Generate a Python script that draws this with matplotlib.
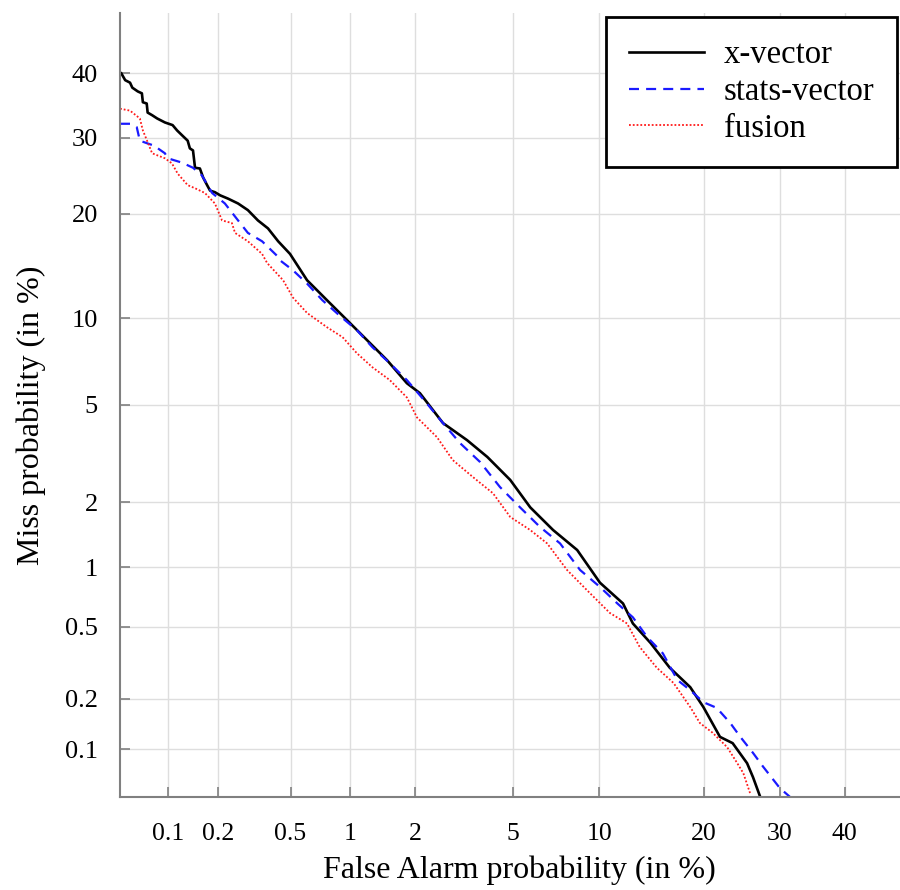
import numpy as np
import matplotlib
matplotlib.use("Agg")
import matplotlib.pyplot as plt
from statistics import NormalDist

# ---------------- data (percent) ----------------
xvec_fa = [0.051, 0.054, 0.058, 0.060, 0.065, 0.069, 0.070, 0.074, 0.075, 0.080, 0.086, 0.096,
           0.107, 0.114, 0.122, 0.132, 0.136, 0.142, 0.146, 0.156, 0.163, 0.172, 0.179, 0.191,
           0.205, 0.227, 0.259, 0.294, 0.334, 0.379, 0.43, 0.497, 0.61, 0.77, 0.97, 1.21, 1.50,
           1.84, 2.10, 2.64, 3.32, 4.00, 4.90, 5.81, 7.01, 8.47, 10.05, 11.86, 12.7, 14.3, 16.2,
           18.4, 19.9, 21.9, 23.5, 25.4, 26.2, 27.2]
xvec_miss = [40.0, 38.9, 38.5, 37.7, 37.1, 36.8, 35.4, 35.2, 33.8, 33.4, 32.9, 32.3,
             31.9, 31.1, 30.4, 29.6, 28.5, 28.2, 25.8, 25.7, 24.5, 23.5, 22.8, 22.6,
             22.2, 21.8, 21.2, 20.4, 19.2, 18.3, 16.9, 15.6, 13.1, 11.4, 9.85, 8.47, 7.24,
             6.01, 5.53, 4.26, 3.65, 3.12, 2.50, 1.90, 1.50, 1.21, 0.84, 0.66, 0.52, 0.41, 0.30,
             0.233, 0.179, 0.119, 0.109, 0.082, 0.067, 0.050]

stats_fa = [0.050, 0.058, 0.064, 0.067, 0.075, 0.082, 0.096, 0.100, 0.122, 0.142, 0.160, 0.184,
            0.218, 0.259, 0.294, 0.352, 0.43, 0.44, 0.516, 0.61, 0.73, 0.89, 1.08, 1.28, 1.54,
            1.84, 2.25, 2.64, 3.11, 3.75, 4.48, 5.33, 6.30, 7.41, 8.66, 10.05, 11.4, 12.7, 14.0,
            15.5, 17.0, 18.4, 19.9, 21.5, 23.2, 24.5, 26.2, 27.6, 30.0, 31.5]
stats_miss = [32.1, 32.1, 31.6, 29.6, 29.2, 28.9, 27.8, 27.1, 26.5, 25.8, 24.8, 22.5,
              21.2, 19.2, 17.8, 16.9, 15.3, 14.96, 14.0, 12.8, 11.4, 10.2, 9.15, 8.03, 7.08,
              6.17, 5.07, 4.26, 3.55, 2.97, 2.33, 1.90, 1.55, 1.30, 0.97, 0.80, 0.66, 0.56, 0.44,
              0.36, 0.256, 0.224, 0.191, 0.177, 0.144, 0.119, 0.095, 0.078, 0.057, 0.050]

fusion_fa = [0.050, 0.058, 0.067, 0.070, 0.075, 0.080, 0.096, 0.106, 0.115, 0.132, 0.146, 0.167,
             0.191, 0.210, 0.239, 0.249, 0.294, 0.352, 0.375, 0.457, 0.516, 0.61, 0.77, 0.92,
             1.08, 1.28, 1.54, 1.84, 2.04, 2.49, 2.90, 3.51, 4.21, 4.90, 5.81, 6.68, 7.83, 9.13,
             10.8, 12.2, 13.3, 14.9, 16.6, 18.4, 19.5, 21.0, 22.8, 24.1, 24.9, 25.8]
fusion_miss = [34.4, 34.1, 32.9, 31.1, 29.4, 27.8, 27.1, 26.4, 25.0, 23.5, 23.1, 22.5,
               21.2, 19.2, 18.9, 17.8, 16.9, 15.6, 14.7, 13.1, 11.6, 10.4, 9.36, 8.68,
               7.66, 6.85, 6.17, 5.33, 4.48, 3.75, 3.03, 2.57, 2.19, 1.72, 1.50, 1.30, 0.97, 0.77,
               0.59, 0.52, 0.39, 0.30, 0.246, 0.179, 0.144, 0.126, 0.103, 0.082, 0.071, 0.053]

series_names = ["x-vector", "stats-vector", "fusion"]
tick_values = [0.1, 0.2, 0.5, 1, 2, 5, 10, 20, 30, 40]
tick_labels = ["0.1", "0.2", "0.5", "1", "2", "5", "10", "20", "30", "40"]
axis_min, axis_max = 0.05, 50

# ---------------- probit scale ----------------
_nd = NormalDist()
_ppf = np.vectorize(_nd.inv_cdf, otypes=[float])
_cdf = np.vectorize(_nd.cdf, otypes=[float])


def fwd(p):
    p = np.clip(np.asarray(p, dtype=float) / 100.0, 1e-9, 1 - 1e-9)
    return _ppf(p)


def inv(z):
    return _cdf(np.asarray(z, dtype=float)) * 100.0


fig = plt.figure(figsize=(9, 8.9), dpi=100)
ax = fig.add_axes([120 / 900, 93 / 890, 785 / 900, 784 / 890])
ax.set_xscale("function", functions=(fwd, inv))
ax.set_yscale("function", functions=(fwd, inv))

ax.plot(xvec_fa, xvec_miss, color="black", lw=1.9, label=series_names[0])
ax.plot(stats_fa, stats_miss, color="#1a1aff", lw=1.6, linestyle=(0, (4.5, 3.2)),
        label=series_names[1])
ax.plot(fusion_fa, fusion_miss, color="#ff1a1a", lw=1.3, linestyle=(0, (1, 1.1)),
        label=series_names[2])

ax.set_xlim(axis_min, axis_max)
ax.set_ylim(axis_min, axis_max)
ax.set_xticks(tick_values)
ax.set_xticklabels(tick_labels, fontfamily="Liberation Serif", fontsize=18.5)
ax.set_yticks(tick_values)
ax.set_yticklabels(tick_labels, fontfamily="Liberation Serif", fontsize=19)
ax.minorticks_off()
ax.tick_params(axis="x", direction="in", length=7, color="#808080", width=1.2, pad=19)
ax.tick_params(axis="y", direction="in", length=7, color="#808080", width=1.2, pad=16)
ax.grid(True, color="#dedede", lw=1.0)
ax.set_axisbelow(True)
for s in ["top", "right"]:
    ax.spines[s].set_visible(False)
for s in ["left", "bottom"]:
    ax.spines[s].set_color("#808080")
    ax.spines[s].set_linewidth(1.5)

ax.set_xlabel("False Alarm probability (in %)", fontfamily="Liberation Serif", fontsize=23)
ax.xaxis.set_label_coords((519 - 120) / 785, -(870 - 797) / 784)
ax.xaxis.label.set_va("center")
ax.set_ylabel("Miss probability (in %)", fontfamily="Liberation Serif", fontsize=23)
ax.yaxis.set_label_coords((31 - 120) / 785, (797 - 415) / 784)
ax.yaxis.label.set_va("center")

leg = ax.legend(loc="upper right", bbox_to_anchor=(897 / 900, 1 - 17 / 890),
                bbox_transform=fig.transFigure, prop={"family": "Liberation Serif", "size": 23.5},
                frameon=True, fancybox=False, handlelength=2.3, labelspacing=0.19,
                borderpad=0.7, handletextpad=0.6, borderaxespad=0)
leg.get_frame().set_edgecolor("black")
leg.get_frame().set_linewidth(2)
leg.get_frame().set_alpha(1)

fig.savefig("out.png", dpi=100)
